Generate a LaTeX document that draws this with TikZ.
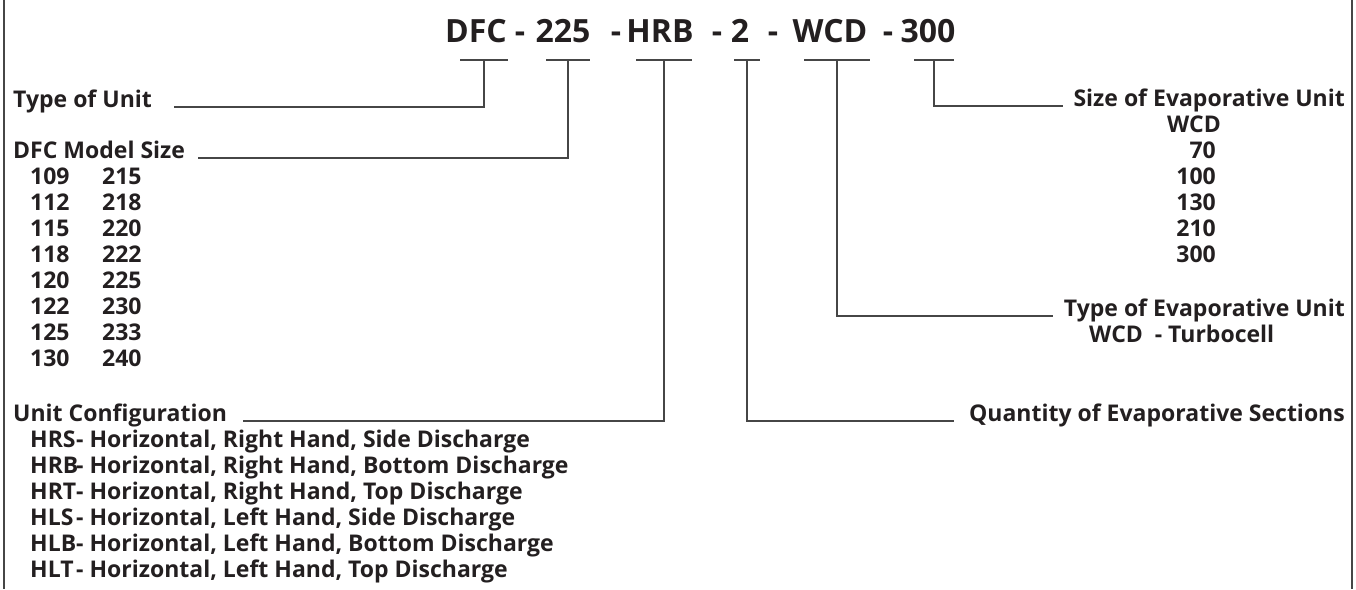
\documentclass[tikz,border=0pt]{standalone}
\usepackage{fontspec}
\setmainfont{Open Sans}
\usetikzlibrary{positioning}
\definecolor{inkblack}{RGB}{35,31,32}
\definecolor{rulegray}{RGB}{70,70,70}
\newcommand{\cfgcode}[1]{\makebox[46pt][l]{#1}}
\newcommand{\sizecol}[1]{\makebox[72pt][l]{#1}}

\begin{document}
\begin{tikzpicture}[x=1pt,y=-1pt,
    part/.style={
        inner sep=0pt,
        anchor=base,
        text=inkblack,
        font=\fontsize{32}{38}\selectfont\bfseries
    },
    lbl/.style={
        inner sep=0pt,
        text=inkblack,
        font=\fontsize{23}{26}\selectfont\bfseries
    },
    lead/.style={
        draw=rulegray,
        line width=1.1pt
    }
]
\useasboundingbox (0,0) rectangle (1356,589);

% frame sides
\draw[lead] (4,0) -- (4,589);
\draw[lead] (1352,0) -- (1352,589);

% model code
\node[part] (dfc) at (476,42) {DFC};
\node[part] (d1) at (520,42) {-};
\node[part] (mdl) at (563,42) {225};
\node[part] (d2) at (616,42) {-};
\node[part] (hrb) at (660,42) {HRB};
\node[part] (d3) at (717,42) {-};
\node[part] (qty) at (740,42) {2};
\node[part] (d4) at (773,42) {-};
\node[part] (wcd) at (830,42) {WCD};
\node[part] (d5) at (888,42) {-};
\node[part] (sz) at (928,42) {300};

% bar tops
\coordinate (b1) at (484,60);
\coordinate (b2) at (568,60);
\coordinate (b3) at (664,60);
\coordinate (b4) at (747,60);
\coordinate (b5) at (837,60);
\coordinate (b6) at (934,60);
\foreach \b/\w in {b1/24,b2/22,b3/28,b4/13,b5/33,b6/20}
    \draw[lead] ([xshift=-\w pt]\b) -- ([xshift=\w pt]\b);

% left labels
\node[lbl, anchor=base west] (unit) at (13,107) {Type of Unit};
\node[lbl, anchor=base west] (model) at (13,158) {DFC Model Size};
\foreach \a/\c [count=\i] in {109/215,112/218,115/220,118/222,120/225,122/230,125/233,130/240}
    \node[lbl, anchor=base west] (size\i) at (30,158+26*\i) {\sizecol{\a}\c};
\node[lbl, anchor=base west] (config) at (13,421) {Unit Configuration};
\foreach \k/\t [count=\i] in {HRS/{Right Hand, Side},HRB/{Right Hand, Bottom},HRT/{Right Hand, Top},HLS/{Left Hand, Side},HLB/{Left Hand, Bottom},HLT/{Left Hand, Top}}
    \node[lbl, anchor=base west] (cfg\i) at (30,421+26*\i) {\cfgcode{\k}- Horizontal, \t{} Discharge};

% right labels
\node[lbl, anchor=base east] (evsize) at (1345,106) {Size of Evaporative Unit};
\node[lbl, anchor=base] (evwcd) at (1194,132) {WCD};
\foreach \n [count=\i] in {70,100,130,210,300}
    \node[lbl, anchor=base east] (ev\i) at (1216,132+26*\i) {\n};
\node[lbl, anchor=base east] (evtype) at (1345,316) {Type of Evaporative Unit};
\node[lbl, anchor=base west] (turbo) at (1089,342) {WCD\ \ - Turbocell};
\node[lbl, anchor=base east] (evqty) at (1345,421) {Quantity of Evaporative Sections};

% leaders
\draw[lead] (b1) |- ([xshift=22pt]unit.base east);
\draw[lead] (b2) |- ([xshift=13pt]model.base east);
\draw[lead] (b3) |- ([xshift=16pt]config.base east);
\draw[lead] (b4) |- ([xshift=-15pt]evqty.base west);
\draw[lead] (b5) |- ([xshift=-11pt]evtype.base west);
\draw[lead] (b6) |- ([xshift=-10pt]evsize.base west);
\end{tikzpicture}
\end{document}
